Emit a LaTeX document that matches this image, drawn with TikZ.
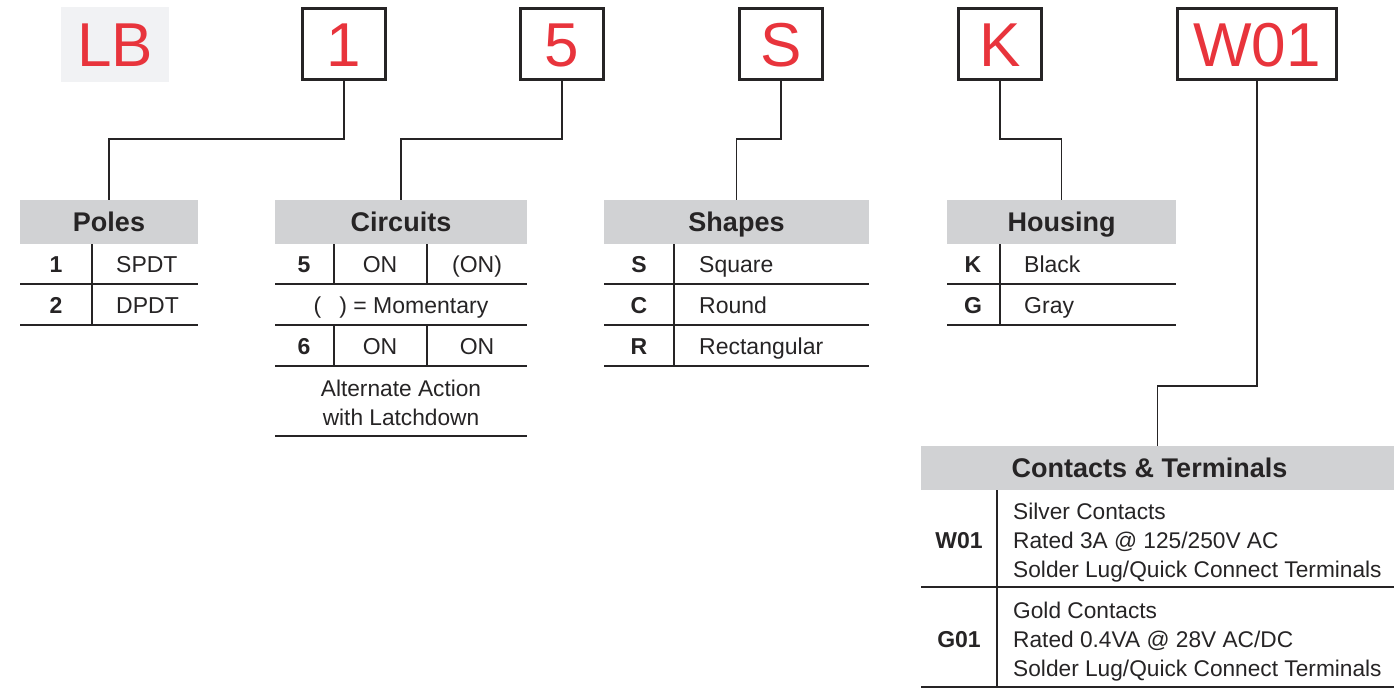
\documentclass[tikz,border=0pt]{standalone}
\usepackage{fontspec}
\setmainfont{Liberation Sans}
\usepackage{xcolor}
\usepackage{tikz}
\usetikzlibrary{shapes,arrows,positioning}

\definecolor{codered}{RGB}{232,52,60}
\definecolor{headgray}{RGB}{209,210,212}
\definecolor{lbgray}{RGB}{241,242,244}
\definecolor{inkgray}{RGB}{38,36,37}

\begin{document}
\begin{tikzpicture}[x=1pt, y=-1pt,
        every node/.style={inner sep=0pt, text=inkgray},
        code/.style={draw=inkgray, line width=2.6pt, minimum width=83, minimum height=71,
            text=codered, text height=44, text depth=0, font=\fontsize{62}{62}\selectfont},
        head/.style={fill=headgray, minimum height=44, text height=19.5, text depth=0,
            font=\fontsize{27}{27}\selectfont\bfseries},
        key/.style={text height=16.5, text depth=0, font=\fontsize{23}{29}\selectfont\bfseries},
        val/.style={text height=16.5, text depth=0, font=\fontsize{23}{29}\selectfont},
        note/.style={font=\fontsize{22.7}{29}\selectfont},
        rule/.style={draw=inkgray, line width=1.3pt},
        link/.style={draw=inkgray, line width=1.5pt}]

    \useasboundingbox (0,0) rectangle (1394,689);

    % part number
    \node[fill=lbgray, minimum width=108, minimum height=75, text=codered,
        text height=44, text depth=0, font=\fontsize{62}{62}\selectfont] (lb) at (115,44) {LB};
    \node[code] (one) at (344,44) {1};
    \node[code] (five) at (562,44) {5};
    \node[code] (shape) at (781,44) {S};
    \node[code] (house) at (1000,44) {K};
    \node[code, minimum width=159] (term) at (1257,44) {W01};

    % tables
    \node[head, minimum width=178] (poles) at (109,222) {Poles};
    \node[head, minimum width=252] (circuits) at (401,222) {Circuits};
    \node[head, minimum width=265] (shapes) at (736.5,222) {Shapes};
    \node[head, minimum width=229] (housing) at (1061.5,222) {Housing};
    \node[head, minimum width=473] (contacts) at (1157.5,468) {\hspace{-16pt}Contacts \& Terminals};

    \draw[link] (one.south) -- (one.south |- 0,139) -| (poles.north);
    \draw[link] (five.south) -- (five.south |- 0,139) -| (circuits.north);
    \draw[link] (shape.south) -- (shape.south |- 0,139) -| (shapes.north);
    \draw[link] (house.south) -- (house.south |- 0,139) -| (housing.north);
    \draw[link] (term.south) -- (term.south |- 0,386) -| (contacts.north);

    \draw[rule] (20,284) -- (198,284) (20,325) -- (198,325) (92,244) -- (92,325);
    \node[key] (p1) at (56,264) {1};
    \node[val, anchor=west] (p1v) at (116,264) {SPDT};
    \node[key] (p2) at (56,305) {2};
    \node[val, anchor=west] (p2v) at (116,305) {DPDT};

    \draw[rule] (275,284) -- (527,284) (275,325) -- (527,325) (275,366) -- (527,366)
        (275,436) -- (527,436);
    \draw[rule] (334,244) -- (334,284) (427,244) -- (427,284)
        (334,325) -- (334,366) (427,325) -- (427,366);
    \node[key] (c5) at (304,264) {5};
    \node[val] (c5a) at (380,264) {ON};
    \node[val] (c5b) at (477,264) {(ON)};
    \node[val] (cmom) at (401,305) {(\hspace{18pt}) = Momentary};
    \node[key] (c6) at (304,346) {6};
    \node[val] (c6a) at (380,346) {ON};
    \node[val] (c6b) at (477,346) {ON};
    \node[note, align=center] (calt) at (401,403) {Alternate Action\\with Latchdown};

    \draw[rule] (604,284) -- (869,284) (604,325) -- (869,325) (604,366) -- (869,366)
        (674,244) -- (674,366);
    \node[key] (sS) at (639,264) {S};
    \node[val, anchor=west] (sSv) at (699,264) {Square};
    \node[key] (sC) at (639,305) {C};
    \node[val, anchor=west] (sCv) at (699,305) {Round};
    \node[key] (sR) at (639,346) {R};
    \node[val, anchor=west] (sRv) at (699,346) {Rectangular};

    \draw[rule] (947,284) -- (1176,284) (947,325) -- (1176,325) (1000,244) -- (1000,325);
    \node[key] (hK) at (973,264) {K};
    \node[val, anchor=west] (hKv) at (1024,264) {Black};
    \node[key] (hG) at (973,305) {G};
    \node[val, anchor=west] (hGv) at (1024,305) {Gray};

    \draw[rule] (921,587) -- (1394,587) (921,687) -- (1394,687) (997,490) -- (997,687);
    \node[key] (tW) at (959,540) {W01};
    \node[note, align=left, anchor=west] (tWv) at (1013,543)
        {Silver Contacts\\Rated 3A @ 125/250V AC\\Solder Lug/Quick Connect Terminals};
    \node[key] (tG) at (959,639) {G01};
    \node[note, align=left, anchor=west] (tGv) at (1013,642)
        {Gold Contacts\\Rated 0.4VA @ 28V AC/DC\\Solder Lug/Quick Connect Terminals};
\end{tikzpicture}
\end{document}
